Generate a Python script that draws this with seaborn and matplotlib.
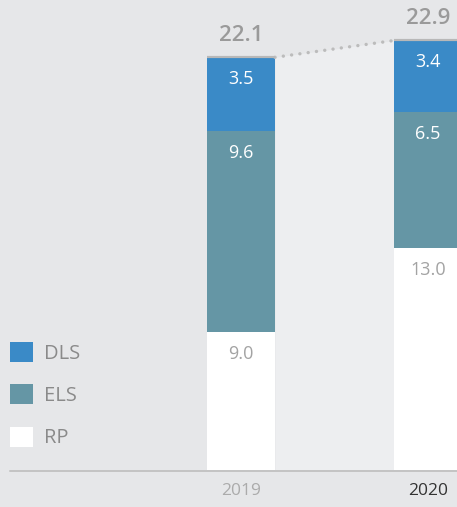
import matplotlib
matplotlib.use("Agg")
import matplotlib.pyplot as plt
import seaborn as sns
import pandas as pd
from matplotlib.patches import Patch

# Data
years = ["2019", "2020"]
rp = [9.0, 13.0]
els = [9.6, 6.5]
dls = [3.5, 3.4]
totals = [22.1, 22.9]
series = ["RP", "ELS", "DLS"]

# Styling
BG = "#e6e7e9"
BAND = "#edeef0"
colors = {"DLS": "#3a8ac7", "ELS": "#6596a5", "RP": "#ffffff"}
value_colors = {"DLS": "#ffffff", "ELS": "#ffffff", "RP": "#a3a3a3"}
year_colors = ["#ababab", "#333333"]

sns.set_theme(style="white")
plt.rcParams["font.family"] = ["Open Sans", "DejaVu Sans"]

W, H = 457, 507
PX = 72 / 100  # points per pixel at dpi 100
fig = plt.figure(figsize=(W / 100, H / 100), dpi=100, facecolor=BG)
base_px = 471
ax = fig.add_axes([0, (H - base_px) / H, 1, base_px / H])
ax.set_facecolor(BG)

df = pd.DataFrame({"year": years, "RP": rp, "ELS": els, "DLS": dls})
bottoms = {
    "RP": [0.0, 0.0],
    "ELS": list(rp),
    "DLS": [a + b for a, b in zip(rp, els)],
}

bar_w = 0.364
for s in series:
    sns.barplot(data=df, x="year", y=s, bottom=bottoms[s], color=colors[s],
                saturation=1, width=bar_w, errorbar=None, linewidth=0,
                ax=ax, zorder=2)

# Value labels near the top of each segment
for s in series:
    vals = df[s].tolist()
    for i, v in enumerate(vals):
        top = bottoms[s][i] + v
        ax.annotate(f"{v:.1f}", xy=(i, top), xytext=(0, -22 * PX),
                    textcoords="offset points", ha="center", va="center",
                    fontsize=13, color=value_colors[s], zorder=5)

# Totals, top caps and dotted connector
for i, t in enumerate(totals):
    ax.hlines(t, i - bar_w / 2, i + bar_w / 2, colors="#b8b8b8",
              linewidth=2.2 * PX, zorder=4)
    ax.annotate(f"{t:.1f}", xy=(i, t), xytext=(0, 22 * PX),
                textcoords="offset points", ha="center", va="center",
                fontsize=16, fontweight="semibold", color="#9a9a9a",
                annotation_clip=False)

ymin, ymax = 2.4, 2.4 + base_px / 21
x0, x1 = 0 + bar_w / 2, 1 - bar_w / 2
ax.fill_between([x0, x1], [totals[0], totals[1]], ymin, color=BAND,
                linewidth=0, zorder=0.5)
ax.plot([x0, x1], [totals[0], totals[1]], color="#bcbcbc",
        linewidth=3.4 * PX, dashes=(0.01, 2.45), dash_capstyle="round",
        zorder=3)

ax.set_ylim(ymin, ymax)
ax.set_xlim(-241 / 187, (W - 241) / 187)
ax.set_yticks([])
ax.set_xlabel("")
ax.set_ylabel("")
for sp in ax.spines.values():
    sp.set_visible(False)

# Baseline
ax.axhline(ymin, xmin=10 / W, xmax=1, color="#c4c4c4", linewidth=2 * PX,
           clip_on=False, zorder=6)

ax.set_xticks([0, 1], years)
ax.tick_params(axis="x", length=0, pad=8.4, labelsize=12.5)
for lbl, c in zip(ax.get_xticklabels(), year_colors):
    lbl.set_color(c)

# Legend
fs = 14.5
fpx = fs / PX
handles = [Patch(facecolor=colors[s], edgecolor="none", label=s)
           for s in ["DLS", "ELS", "RP"]]
fig.legend(handles=handles, loc="upper left",
           bbox_to_anchor=(10 / W, 1 - 342 / H), frameon=False, fontsize=fs,
           handlelength=23 / fpx, handleheight=23 / fpx,
           handletextpad=11 / fpx, labelspacing=1.02, borderpad=0,
           borderaxespad=0, labelcolor="#8a8a8a")

fig.savefig("out.png", dpi=100, facecolor=BG)
